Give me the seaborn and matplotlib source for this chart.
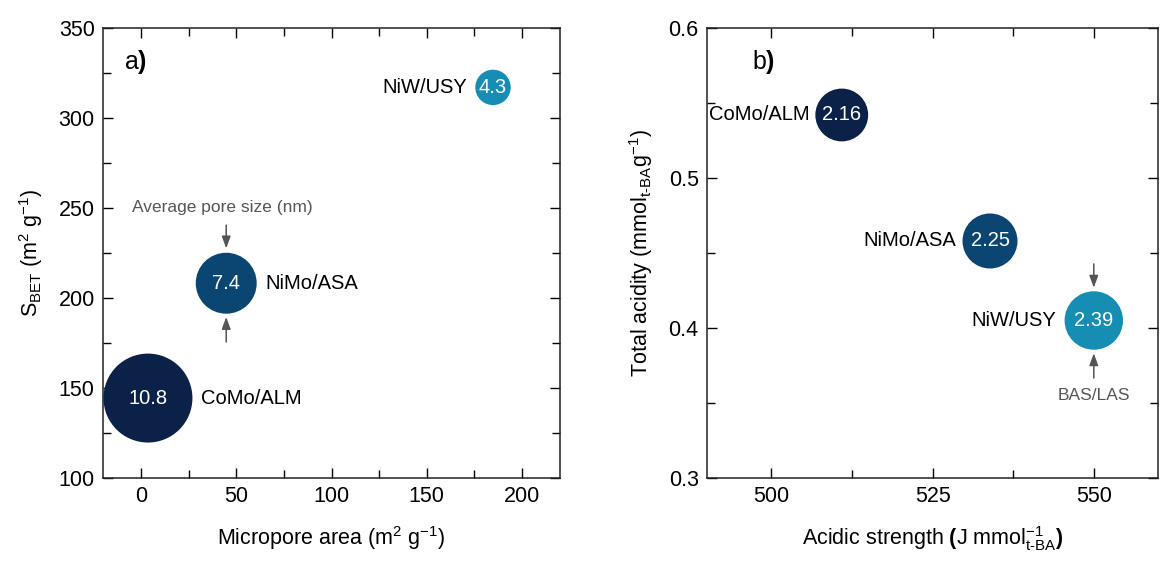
import numpy as np
import pandas as pd
import matplotlib
matplotlib.use("Agg")
import matplotlib.pyplot as plt
import seaborn as sns

# data
catalysts = ["CoMo/ALM", "NiMo/ASA", "NiW/USY"]
micropore_area = [3.6, 44.7, 184.8]      # m2/g
s_bet = [144.4, 208.2, 317.0]             # m2/g
pore_size = [10.8, 7.4, 4.3]              # nm
acid_strength = [510.9, 533.9, 550.0]     # J/mmol
total_acidity = [0.542, 0.458, 0.405]     # mmol/g
bas_las = [2.16, 2.25, 2.39]

colors = {"CoMo/ALM": "#0b2148", "NiMo/ASA": "#0b4673", "NiW/USY": "#168db2"}

df = pd.DataFrame({"cat": catalysts, "micro": micropore_area, "sbet": s_bet,
                   "pore": pore_size, "strength": acid_strength,
                   "acid": total_acidity, "ratio": bas_las})

sns.set_theme(style="ticks")
plt.rcParams["font.family"] = ["Liberation Sans", "DejaVu Sans"]
plt.rcParams["mathtext.fontset"] = "custom"
plt.rcParams["mathtext.rm"] = "Liberation Sans"
plt.rcParams["mathtext.it"] = "Liberation Sans"
plt.rcParams["mathtext.bf"] = "Liberation Sans:bold"
plt.rcParams["axes.linewidth"] = 1.1
for k in ["text.color", "axes.labelcolor", "xtick.color", "ytick.color", "axes.edgecolor"]:
    plt.rcParams[k] = "black"

fig = plt.figure(figsize=(11.6, 5.62), dpi=100)
ax1 = fig.add_axes([0.0888, 0.1495, 0.394, 0.8007])
ax2 = fig.add_axes([0.6095, 0.1495, 0.389, 0.8007])

# bubble diameter grows linearly with the value shown inside it
sizes_a = {v: (5.93 * v) ** 2 for v in pore_size}
sizes_b = {v: (17.6 * v) ** 2 for v in bas_las}

sns.scatterplot(data=df, x="micro", y="sbet", hue="cat", palette=colors,
                size="pore", sizes=sizes_a, legend=False, linewidth=0,
                alpha=1, ax=ax1, zorder=3)
sns.scatterplot(data=df, x="strength", y="acid", hue="cat", palette=colors,
                size="ratio", sizes=sizes_b, legend=False, linewidth=0,
                alpha=1, ax=ax2, zorder=3)

tick_fs = 15.5
for ax in (ax1, ax2):
    ax.tick_params(which="both", direction="in", top=True, right=True,
                   width=1.0, labelsize=tick_fs, pad=6)
    ax.tick_params(which="major", length=7)
    ax.tick_params(which="minor", length=6)
    for sp in ax.spines.values():
        sp.set_visible(True)
        sp.set_color("#222222")

# panel a
ax1.set_xlim(-20, 220)
ax1.set_ylim(100, 350)
ax1.set_xticks([0, 50, 100, 150, 200])
ax1.set_xticks(np.arange(25, 225, 50), minor=True)
ax1.set_yticks([100, 150, 200, 250, 300, 350])
ax1.set_yticks(np.arange(125, 350, 50), minor=True)
ax1.set_xlabel("Micropore area (m$^2$ g$^{-1}$)", fontsize=15.5, labelpad=12)
ax1.set_ylabel("S$_{\\mathrm{BET}}$ (m$^2$ g$^{-1}$)", fontsize=15.5, labelpad=10)
ax1.text(0.045, 0.955, "a$\\mathbf{)}$", transform=ax1.transAxes, fontsize=18,
         ha="left", va="top")

offs_a = {"CoMo/ALM": (38, "left"), "NiMo/ASA": (28, "left"), "NiW/USY": (-19, "right")}
for _, r in df.iterrows():
    ax1.text(r["micro"], r["sbet"], f"{r['pore']:g}", color="white",
             fontsize=14.5, ha="center", va="center", zorder=4)
    dx, ha = offs_a[r["cat"]]
    ax1.annotate(r["cat"], (r["micro"], r["sbet"]), xytext=(dx, 0),
                 textcoords="offset points", ha=ha, va="center", fontsize=14.5)

arrow_kw = dict(arrowstyle="-|>,head_length=0.6,head_width=0.22", color="#555555", lw=1.1)
nimo = df[df["cat"] == "NiMo/ASA"].iloc[0]
ax1.annotate("", xy=(nimo["micro"], 226), xytext=(nimo["micro"], 242), arrowprops=arrow_kw)
ax1.annotate("", xy=(nimo["micro"], 191), xytext=(nimo["micro"], 174), arrowprops=arrow_kw)
ax1.text(nimo["micro"] - 2, 250.4, "Average pore size (nm)", color="#555555",
         fontsize=12.5, ha="center", va="center")

# panel b
ax2.set_xlim(490, 560)
ax2.set_ylim(0.3, 0.6)
ax2.set_xticks([500, 525, 550])
ax2.set_xticks([512.5, 537.5], minor=True)
ax2.set_yticks([0.3, 0.4, 0.5, 0.6])
ax2.set_yticks([0.35, 0.45, 0.55], minor=True)
ax2.set_xlabel("Acidic strength $\\mathbf{(}$J mmol$^{-1}_{\\text{t-BA}}$$\\mathbf{)}$",
               fontsize=15.5, labelpad=12)
ax2.set_ylabel("Total acidity (mmol$_{\\text{t-BA}}$g$^{-1}$)", fontsize=15.5, labelpad=10)
ax2.text(0.1, 0.955, "b$\\mathbf{)}$", transform=ax2.transAxes, fontsize=18,
         ha="left", va="top")

offs_b = {"CoMo/ALM": -23.4, "NiMo/ASA": -24.3, "NiW/USY": -27}
for _, r in df.iterrows():
    ax2.text(r["strength"], r["acid"], f"{r['ratio']:.2f}", color="white",
             fontsize=14.5, ha="center", va="center", zorder=4)
    ax2.annotate(r["cat"], (r["strength"], r["acid"]), xytext=(offs_b[r["cat"]], 0),
                 textcoords="offset points", ha="right", va="center", fontsize=14.5)

niw = df[df["cat"] == "NiW/USY"].iloc[0]
ax2.annotate("", xy=(niw["strength"], 0.425), xytext=(niw["strength"], 0.4446), arrowprops=arrow_kw)
ax2.annotate("", xy=(niw["strength"], 0.385), xytext=(niw["strength"], 0.3648), arrowprops=arrow_kw)
ax2.text(niw["strength"], 0.355, "BAS/LAS", color="#555555", fontsize=12.5,
         ha="center", va="center")

fig.savefig("out.png", dpi=100)
